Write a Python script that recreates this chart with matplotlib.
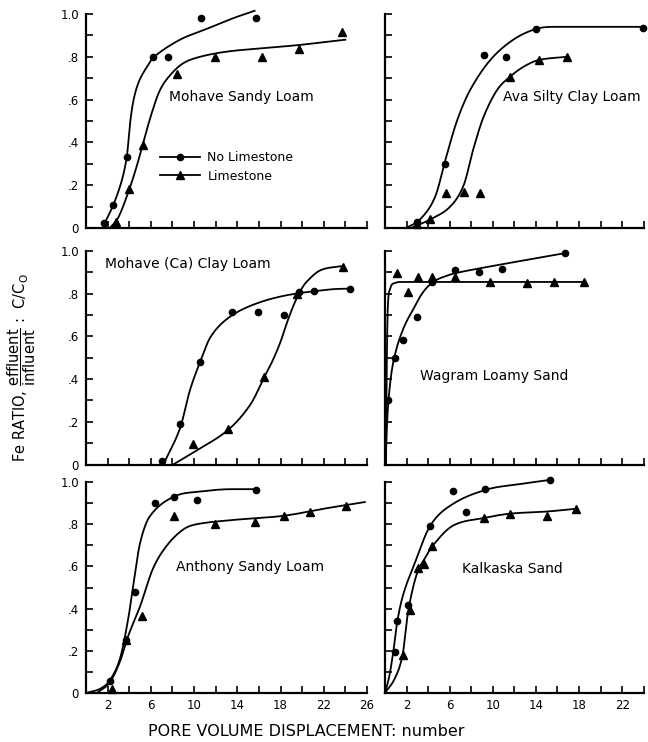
import numpy as np
import matplotlib
matplotlib.use("Agg")
import matplotlib.pyplot as plt
from matplotlib.lines import Line2D

plt.rcParams['font.family'] = ['DejaVu Sans']
plt.rcParams['mathtext.fontset'] = 'dejavusans'

# ---------------- data ----------------
# Mohave Sandy Loam
msl_nl_px = [1.7, 2.5, 3.8, 6.2, 7.6, 10.6, 15.7]
msl_nl_py = [0.025, 0.107, 0.33, 0.80, 0.80, 0.98, 0.98]
msl_nl_cx = [1.5, 2.5, 3.3, 3.77, 3.95, 4.15, 4.45, 4.9, 5.6, 6.3, 8.7, 10.9, 13.6, 15.6]
msl_nl_cy = [0, 0.105, 0.22, 0.33, 0.42, 0.52, 0.61, 0.685, 0.75, 0.80, 0.88, 0.925, 0.98, 1.015]
msl_l_px = [2.8, 4.0, 5.3, 8.45, 11.95, 16.3, 19.7, 23.7]
msl_l_py = [0.03, 0.18, 0.39, 0.72, 0.80, 0.80, 0.835, 0.915]
msl_l_cx = [2.2, 3.0, 4.0, 4.7, 5.3, 6.1, 6.85, 7.8, 9.0, 10.55, 13.0, 16.3, 19.7, 22.6, 24.0]
msl_l_cy = [0, 0.05, 0.18, 0.29, 0.40, 0.54, 0.645, 0.715, 0.77, 0.80, 0.824, 0.84, 0.855, 0.872, 0.88]

# Ava Silty Clay Loam
ava_nl_px = [2.95, 5.6, 9.15, 11.2, 14.0, 23.9]
ava_nl_py = [0.03, 0.30, 0.81, 0.80, 0.93, 0.936]
ava_nl_cx = [1.95, 3.25, 4.65, 5.67, 6.67, 7.9, 9.77, 11.9, 14.0, 15.66, 23.9]
ava_nl_cy = [0, 0.04, 0.146, 0.33, 0.50, 0.645, 0.785, 0.88, 0.93, 0.94, 0.94]
ava_l_px = [2.95, 4.2, 5.67, 7.35, 8.84, 11.6, 14.26, 16.9]
ava_l_py = [0.02, 0.04, 0.165, 0.17, 0.162, 0.707, 0.785, 0.80]
ava_l_cx = [2.4, 4.2, 6.05, 7.3, 8.2, 9.15, 10.4, 11.6, 12.87, 14.26, 16.9]
ava_l_cy = [0, 0.04, 0.10, 0.20, 0.37, 0.52, 0.645, 0.707, 0.754, 0.785, 0.80]

# Mohave (Ca) Clay Loam
mcl_nl_px = [7.07, 8.7, 10.55, 13.55, 15.95, 18.3, 19.7, 21.05, 24.4]
mcl_nl_py = [0.015, 0.19, 0.48, 0.715, 0.715, 0.70, 0.81, 0.813, 0.824]
mcl_nl_cx = [7.16, 8.7, 9.6, 10.55, 11.5, 13.0, 15.2, 18.3, 22.6, 24.4]
mcl_nl_cy = [0, 0.17, 0.345, 0.48, 0.595, 0.68, 0.743, 0.79, 0.82, 0.824]
mcl_l_px = [9.94, 13.1, 16.5, 19.5, 23.8]
mcl_l_py = [0.097, 0.167, 0.41, 0.80, 0.927]
mcl_l_cx = [8.08, 9.94, 13.1, 15.2, 16.5, 17.3, 18.0, 18.6, 19.2, 19.8, 20.4, 21.7, 23.8]
mcl_l_cy = [0, 0.057, 0.16, 0.28, 0.41, 0.49, 0.575, 0.665, 0.745, 0.81, 0.855, 0.91, 0.93]

# Wagram Loamy Sand
wls_nl_px = [0.3, 0.93, 1.7, 2.95, 4.34, 6.5, 8.7, 10.85, 16.7]
wls_nl_py = [0.30, 0.50, 0.585, 0.69, 0.855, 0.91, 0.90, 0.917, 0.99]
wls_nl_cx = [0.05, 0.15, 0.3, 0.6, 1.0, 1.5, 2.0, 2.6, 3.3, 4.0, 4.8, 5.5, 6.5, 10.0, 16.7]
wls_nl_cy = [0, 0.15, 0.285, 0.43, 0.53, 0.61, 0.67, 0.725, 0.79, 0.835, 0.865, 0.88, 0.896, 0.93, 0.99]
wls_l_px = [1.1, 2.17, 3.1, 4.34, 6.5, 9.77, 13.2, 15.66, 18.5]
wls_l_py = [0.895, 0.81, 0.878, 0.878, 0.88, 0.855, 0.85, 0.855, 0.855]
wls_l_cx = [0.1, 0.15, 0.25, 0.45, 0.9, 1.6, 18.5]
wls_l_cy = [0, 0.4, 0.72, 0.82, 0.85, 0.855, 0.855]

# Anthony Sandy Loam
asl_nl_px = [2.2, 3.7, 4.5, 6.4, 8.1, 10.25, 15.7]
asl_nl_py = [0.055, 0.25, 0.477, 0.90, 0.93, 0.915, 0.962]
asl_nl_cx = [0, 1.3, 2.2, 3.15, 3.9, 4.4, 5.0, 5.9, 8.1, 10.55, 13.6, 15.7]
asl_nl_cy = [0, 0.02, 0.06, 0.164, 0.35, 0.52, 0.71, 0.837, 0.93, 0.955, 0.966, 0.966]
asl_l_px = [2.4, 3.7, 5.15, 8.15, 11.9, 15.6, 18.3, 20.7, 24.1]
asl_l_py = [0.02, 0.25, 0.367, 0.84, 0.80, 0.81, 0.84, 0.857, 0.884]
asl_l_cx = [1.0, 2.2, 3.15, 3.9, 5.0, 6.2, 7.5, 9.0, 10.25, 13.6, 18.3, 22.3, 25.8]
asl_l_cy = [0, 0.05, 0.15, 0.27, 0.41, 0.59, 0.70, 0.775, 0.80, 0.82, 0.84, 0.876, 0.905]

# Kalkaska Sand
ks_nl_px = [0.92, 1.08, 2.15, 4.2, 6.31, 7.48, 9.3, 15.3]
ks_nl_py = [0.196, 0.339, 0.419, 0.793, 0.957, 0.857, 0.965, 1.01]
ks_nl_cx = [0, 0.4, 0.77, 1.14, 1.69, 2.6, 4.2, 6.3, 9.5, 12.5, 15.3]
ks_nl_cy = [0, 0.08, 0.196, 0.339, 0.467, 0.594, 0.793, 0.896, 0.965, 0.99, 1.01]
ks_l_px = [1.63, 2.3, 3.08, 3.6, 4.4, 9.23, 11.6, 15.0, 17.7]
ks_l_py = [0.18, 0.395, 0.594, 0.61, 0.697, 0.83, 0.85, 0.84, 0.873]
ks_l_cx = [0, 0.92, 1.63, 2.1, 2.6, 3.1, 3.6, 4.4, 6.3, 9.23, 11.6, 15.0, 17.7]
ks_l_cy = [0, 0.07, 0.18, 0.37, 0.50, 0.585, 0.63, 0.697, 0.793, 0.83, 0.85, 0.86, 0.873]

soil_names = ["Mohave Sandy Loam", "Ava Silty Clay Loam", "Mohave (Ca) Clay Loam",
              "Wagram Loamy Sand", "Anthony Sandy Loam", "Kalkaska Sand"]
series_names = ["No Limestone", "Limestone"]
y_tick_labels = ["0", ".2", ".4", ".6", ".8", "1.0"]
x_labels_left = ["2", "6", "10", "14", "18", "22", "26"]
x_labels_right = ["2", "6", "10", "14", "18", "22"]


# ---------------- helpers ----------------
def smooth_monotone(x, y, xs):
    """Cubic Hermite through the read points, centred slopes with
    Fritsch-Carlson limiting (smooth and without overshoot)."""
    x = np.asarray(x, float); y = np.asarray(y, float)
    h = np.diff(x); d = np.diff(y) / h
    n = len(x)
    m = np.zeros(n)
    m[0] = d[0]; m[-1] = d[-1]
    for k in range(1, n - 1):
        m[k] = (y[k + 1] - y[k - 1]) / (x[k + 1] - x[k - 1])
        if d[k - 1] * d[k] <= 0:
            m[k] = 0.0
    for k in range(n - 1):
        if d[k] == 0:
            m[k] = 0.0; m[k + 1] = 0.0
            continue
        a = m[k] / d[k]; b = m[k + 1] / d[k]
        s = a * a + b * b
        if s > 9:
            t = 3 / np.sqrt(s)
            m[k] = t * a * d[k]; m[k + 1] = t * b * d[k]
    idx = np.clip(np.searchsorted(x, xs) - 1, 0, n - 2)
    t = (xs - x[idx]) / h[idx]
    h00 = 2 * t**3 - 3 * t**2 + 1; h10 = t**3 - 2 * t**2 + t
    h01 = -2 * t**3 + 3 * t**2; h11 = t**3 - t**2
    return h00 * y[idx] + h10 * h[idx] * m[idx] + h01 * y[idx + 1] + h11 * h[idx] * m[idx + 1]


def curve(ax, cx, cy):
    xs = np.linspace(cx[0], cx[-1], 500)
    ax.plot(xs, smooth_monotone(cx, cy, xs), color='black', lw=1.3,
            clip_on=False, zorder=3)


def pts(ax, px, py, marker, ms):
    ax.plot(px, py, linestyle='none', marker=marker, color='black', ms=ms,
            clip_on=False, zorder=4)


fig = plt.figure(figsize=(6.48, 7.42), dpi=100)

L_x0, L_w = 86 / 648, 281 / 648
R_x0, R_w = 385 / 648, 258.7 / 648
rows = [((742 - 228) / 742, 214 / 742),
        ((742 - 464.5) / 742, 213.5 / 742),
        ((742 - 693) / 742, 211 / 742)]

panels = [
    (L_x0, L_w, 26, rows[0], msl_nl_px, msl_nl_py, msl_nl_cx, msl_nl_cy, msl_l_px, msl_l_py, msl_l_cx, msl_l_cy, soil_names[0], (7.7, 0.61), True, False),
    (R_x0, R_w, 24, rows[0], ava_nl_px, ava_nl_py, ava_nl_cx, ava_nl_cy, ava_l_px, ava_l_py, ava_l_cx, ava_l_cy, soil_names[1], (10.95, 0.61), False, False),
    (L_x0, L_w, 26, rows[1], mcl_nl_px, mcl_nl_py, mcl_nl_cx, mcl_nl_cy, mcl_l_px, mcl_l_py, mcl_l_cx, mcl_l_cy, soil_names[2], (1.76, 0.94), True, False),
    (R_x0, R_w, 24, rows[1], wls_nl_px, wls_nl_py, wls_nl_cx, wls_nl_cy, wls_l_px, wls_l_py, wls_l_cx, wls_l_cy, soil_names[3], (3.26, 0.415), False, False),
    (L_x0, L_w, 26, rows[2], asl_nl_px, asl_nl_py, asl_nl_cx, asl_nl_cy, asl_l_px, asl_l_py, asl_l_cx, asl_l_cy, soil_names[4], (8.3, 0.595), True, True),
    (R_x0, R_w, 24, rows[2], ks_nl_px, ks_nl_py, ks_nl_cx, ks_nl_cy, ks_l_px, ks_l_py, ks_l_cx, ks_l_cy, soil_names[5], (7.13, 0.59), False, True),
]

axes = []
for (x0, w, xmax, (y0, hgt), npx, npy, ncx, ncy, lpx, lpy, lcx, lcy,
     name, lab, left, bottom) in panels:
    ax = fig.add_axes([x0, y0, w, hgt])
    axes.append(ax)
    ax.set_xlim(0, xmax)
    ax.set_ylim(0, 1.0)
    for s in ['top', 'right']:
        ax.spines[s].set_visible(False)
    for s in ['left', 'bottom']:
        ax.spines[s].set_linewidth(1.6)
    ax.set_yticks(np.arange(0, 1.01, 0.1))
    if left:
        ax.set_yticklabels([y_tick_labels[i // 2] if i % 2 == 0 else "" for i in range(11)])
    else:
        ax.set_yticklabels([])
    xt = np.arange(2, xmax + 0.1, 2)
    ax.set_xticks(xt)
    if bottom:
        labs = x_labels_left if xmax == 26 else x_labels_right
        ax.set_xticklabels([labs[i // 2] if i % 2 == 0 else "" for i in range(len(xt))])
    else:
        ax.set_xticklabels([])
    ax.tick_params(direction='in', length=5, width=1.2, labelsize=8.5, pad=4)
    ax.tick_params(axis='y', pad=5)

    curve(ax, ncx, ncy)
    curve(ax, lcx, lcy)
    pts(ax, npx, npy, 'o', 4.5)
    pts(ax, lpx, lpy, '^', 5.5)
    ax.text(lab[0], lab[1], name, fontsize=10, va='center', ha='left')

# legend in first panel
h1 = Line2D([], [], color='black', lw=1.3, marker='o', ms=4.5)
h2 = Line2D([], [], color='black', lw=1.3, marker='^', ms=5.5)
axes[0].legend([h1, h2], series_names, loc='center left', bbox_to_anchor=(0.245, 0.285),
               frameon=False, handlelength=3.2, fontsize=9, borderaxespad=0,
               labelspacing=0.45, handletextpad=0.6, numpoints=1)

fig.text(0.034, 0.505,
         r"Fe RATIO, $\dfrac{\mathrm{effluent}}{\mathrm{influent}}$ :  C/C$_\mathrm{O}$",
         rotation=90, ha='center', va='center', fontsize=10.5)
fig.text(306 / 648, 1 - 731 / 742, "PORE VOLUME DISPLACEMENT: number",
         ha='center', va='center', fontsize=11.5)

fig.savefig("out.png", dpi=100)
